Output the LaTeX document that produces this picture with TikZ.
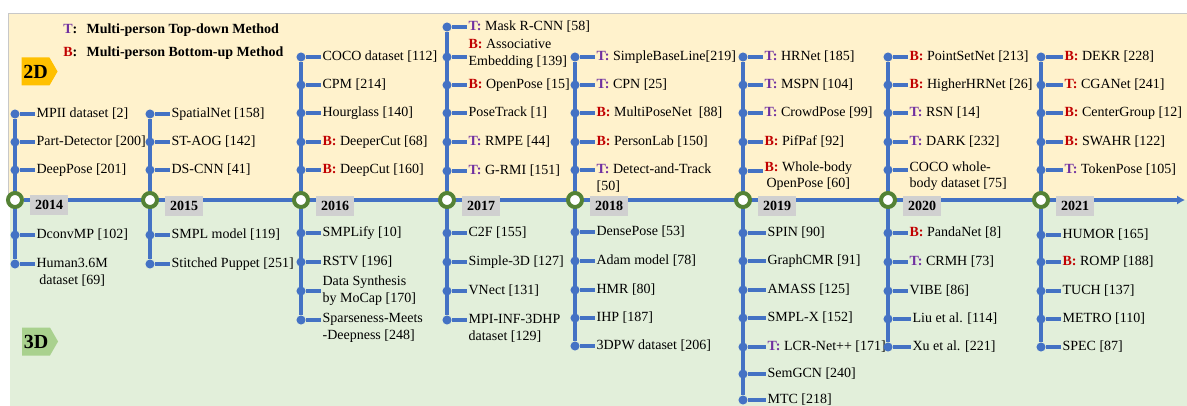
\documentclass[tikz,border=0pt]{standalone}
\usepackage{fontspec}
\setmainfont{Liberation Serif}
\usetikzlibrary{arrows.meta,shapes.symbols}
\pgfdeclarelayer{back}
\pgfdeclarelayer{wires}
\pgfsetlayers{back,wires,main}
\newcommand{\tdm}{\textcolor[RGB]{112,48,160}{\textbf{T:}}\ }
\newcommand{\bum}{\textcolor[RGB]{192,0,0}{\textbf{B:}}\ }
\newcommand{\tdmred}{\textcolor[RGB]{192,0,0}{\textbf{T:}}\ }
\begin{document}
\begin{tikzpicture}[x=0.75pt,y=0.75pt,yscale=-1,xscale=1,
  spine/.style={draw={rgb,255:red,68;green,114;blue,196},line width=2.6pt},
  dot/.style={circle,fill={rgb,255:red,68;green,114;blue,196},inner sep=0pt,minimum size=6.8pt},
  item/.style={anchor=west,inner sep=1pt,align=left,font=\fontsize{10.5}{12.5}\selectfont},
  ring/.style={circle,draw={rgb,255:red,84;green,130;blue,53},fill=white,line width=3pt,inner sep=0pt,minimum size=10.5pt},
  yearbox/.style={fill={rgb,255:red,208;green,208;blue,208},inner sep=0pt,minimum width=29pt,minimum height=15pt,font=\bfseries\fontsize{10.5}{12}\selectfont},
  tag/.style={signal,signal to=east,signal pointer angle=120,inner sep=0pt,minimum width=27pt,minimum height=21pt,font=\bfseries\fontsize{15}{16}\selectfont}
]
\useasboundingbox (0,0) rectangle (1187,406);
%Panels
\begin{pgfonlayer}{back}
\fill[color={rgb,255:red,255;green,242;blue,204}] (8,13) rectangle (1187,200);
\draw[color={rgb,255:red,200;green,200;blue,200}] (8,200) -- (8,13) -- (1187,13);
\fill[color={rgb,255:red,226;green,239;blue,218}] (10,200) rectangle (1187,406);
\end{pgfonlayer}
%Key
\node[anchor=west,inner sep=0pt,font=\bfseries\fontsize{10.5}{12}\selectfont] (keyT) at (63,30) {\textcolor[RGB]{112,48,160}{T}:\hspace{7pt}Multi-person Top-down Method};
\node[anchor=west,inner sep=0pt,font=\bfseries\fontsize{10.5}{12}\selectfont] (keyB) at (63,53) {\textcolor[RGB]{192,0,0}{B}:\hspace{7pt}Multi-person Bottom-up Method};
\node[tag,fill={rgb,255:red,255;green,192;blue,0}] (tag2d) at (35.5,71.5) {2D};
\node[tag,fill={rgb,255:red,169;green,209;blue,142}] (tag3d) at (36,341.5) {3D};

%2014
\node[dot] (d14a) at (15,114) {};
\node[item] (t14a) at (35,114) {MPII dataset [2]};
\node[dot] (d14b) at (15,142) {};
\node[item] (t14b) at (35,142) {Part-Detector [200]};
\node[dot] (d14c) at (15,170) {};
\node[item] (t14c) at (35,170) {DeepPose [201]};
\node[dot] (d14d) at (15,235) {};
\node[item] (t14d) at (35,235) {DconvMP [102]};
\node[dot] (d14e) at (15,264) {};
\node[item,align=center] (t14e) at (35,272) {Human3.6M\\dataset [69]};
\begin{pgfonlayer}{wires}
\draw[spine] (d14a) -- (d14e);
\foreach \k in {a,...,e} \draw[spine] (d14\k) -- (d14\k -| t14\k.west);
\end{pgfonlayer}

%2015
\node[dot] (d15a) at (150,114) {};
\node[item] (t15a) at (170,114) {SpatialNet [158]};
\node[dot] (d15b) at (150,142) {};
\node[item] (t15b) at (170,142) {ST-AOG [142]};
\node[dot] (d15c) at (150,170) {};
\node[item] (t15c) at (170,170) {DS-CNN [41]};
\node[dot] (d15d) at (150,235) {};
\node[item] (t15d) at (170,235) {SMPL model [119]};
\node[dot] (d15e) at (150,264) {};
\node[item] (t15e) at (170,264) {Stitched Puppet [251]};
\begin{pgfonlayer}{wires}
\draw[spine] (d15a) -- (d15e);
\foreach \k in {a,...,e} \draw[spine] (d15\k) -- (d15\k -| t15\k.west);
\end{pgfonlayer}

%2016
\node[dot] (d16a) at (301,57) {};
\node[item] (t16a) at (321,57) {COCO dataset [112]};
\node[dot] (d16b) at (301,85) {};
\node[item] (t16b) at (321,85) {CPM [214]};
\node[dot] (d16c) at (301,113) {};
\node[item] (t16c) at (321,113) {Hourglass [140]};
\node[dot] (d16d) at (301,142) {};
\node[item] (t16d) at (321,142) {\bum DeeperCut [68]};
\node[dot] (d16e) at (301,170) {};
\node[item] (t16e) at (321,170) {\bum DeepCut [160]};
\node[dot] (d16f) at (301,233) {};
\node[item] (t16f) at (321,233) {SMPLify [10]};
\node[dot] (d16g) at (301,262) {};
\node[item] (t16g) at (321,262) {RSTV [196]};
\node[dot] (d16h) at (301,291) {};
\node[item] (t16h) at (321,290.5) {Data Synthesis\\by MoCap [170]};
\node[dot] (d16i) at (301,320) {};
\node[item] (t16i) at (321,328) {Sparseness-Meets\\-Deepness [248]};
\begin{pgfonlayer}{wires}
\draw[spine] (d16a) -- (d16i);
\foreach \k in {a,...,i} \draw[spine] (d16\k) -- (d16\k -| t16\k.west);
\end{pgfonlayer}

%2017
\node[dot] (d17a) at (447,27) {};
\node[item] (t17a) at (467,27) {\tdm Mask R-CNN [58]};
\node[dot] (d17b) at (447,57) {};
\node[item] (t17b) at (467,54) {\bum Associative\\Embedding [139]};
\node[dot] (d17c) at (447,85) {};
\node[item] (t17c) at (467,85) {\bum OpenPose [15]};
\node[dot] (d17d) at (447,113) {};
\node[item] (t17d) at (467,113) {PoseTrack [1]};
\node[dot] (d17e) at (447,142) {};
\node[item] (t17e) at (467,142) {\tdm RMPE [44]};
\node[dot] (d17f) at (447,171) {};
\node[item] (t17f) at (467,171) {\tdm G-RMI [151]};
\node[dot] (d17g) at (447,233) {};
\node[item] (t17g) at (467,233) {C2F [155]};
\node[dot] (d17h) at (447,262) {};
\node[item] (t17h) at (467,262) {Simple-3D [127]};
\node[dot] (d17i) at (447,291) {};
\node[item] (t17i) at (467,291) {VNect [131]};
\node[dot] (d17j) at (447,320) {};
\node[item] (t17j) at (467,328) {MPI-INF-3DHP\\dataset [129]};
\begin{pgfonlayer}{wires}
\draw[spine] (d17a) -- (d17j);
\foreach \k in {a,...,j} \draw[spine] (d17\k) -- (d17\k -| t17\k.west);
\end{pgfonlayer}

%2018
\node[dot] (d18a) at (575,57) {};
\node[item] (t18a) at (595,57) {\tdm SimpleBaseLine[219]};
\node[dot] (d18b) at (575,85) {};
\node[item] (t18b) at (595,85) {\tdm CPN [25]};
\node[dot] (d18c) at (575,113) {};
\node[item] (t18c) at (595,113) {\bum MultiPoseNet\ \ [88]};
\node[dot] (d18d) at (575,142) {};
\node[item] (t18d) at (595,142) {\bum PersonLab [150]};
\node[dot] (d18e) at (575,170) {};
\node[item] (t18e) at (595,178) {\tdm Detect-and-Track\\{}[50]};
\node[dot] (d18f) at (575,232) {};
\node[item] (t18f) at (595,232) {DensePose [53]};
\node[dot] (d18g) at (575,261) {};
\node[item] (t18g) at (595,261) {Adam model [78]};
\node[dot] (d18h) at (575,290) {};
\node[item] (t18h) at (595,290) {HMR [80]};
\node[dot] (d18i) at (575,318) {};
\node[item] (t18i) at (595,318) {IHP [187]};
\node[dot] (d18j) at (575,346) {};
\node[item] (t18j) at (595,346) {3DPW dataset [206]};
\begin{pgfonlayer}{wires}
\draw[spine] (d18a) -- (d18j);
\foreach \k in {a,...,j} \draw[spine] (d18\k) -- (d18\k -| t18\k.west);
\end{pgfonlayer}

%2019
\node[dot] (d19a) at (743,57) {};
\node[item] (t19a) at (763,57) {\tdm HRNet [185]};
\node[dot] (d19b) at (743,85) {};
\node[item] (t19b) at (763,85) {\tdm MSPN [104]};
\node[dot] (d19c) at (743,113) {};
\node[item] (t19c) at (763,113) {\tdm CrowdPose [99]};
\node[dot] (d19d) at (743,142) {};
\node[item] (t19d) at (763,142) {\bum PifPaf [92]};
\node[dot] (d19e) at (743,171) {};
\node[item,align=center] (t19e) at (763,176) {\bum Whole-body\\OpenPose [60]};
\node[dot] (d19f) at (743,233) {};
\node[item] (t19f) at (766,233) {SPIN [90]};
\node[dot] (d19g) at (743,261) {};
\node[item] (t19g) at (766,261) {GraphCMR [91]};
\node[dot] (d19h) at (743,290) {};
\node[item] (t19h) at (766,290) {AMASS [125]};
\node[dot] (d19i) at (743,318) {};
\node[item] (t19i) at (766,318) {SMPL-X [152]};
\node[dot] (d19j) at (743,347) {};
\node[item] (t19j) at (766,347) {\tdm LCR-Net++ [171]};
\node[dot] (d19k) at (743,374) {};
\node[item] (t19k) at (766,374) {SemGCN [240]};
\node[dot] (d19l) at (743,400) {};
\node[item] (t19l) at (766,400) {MTC [218]};
\begin{pgfonlayer}{wires}
\draw[spine] (d19a) -- (d19l);
\foreach \k in {a,...,l} \draw[spine] (d19\k) -- (d19\k -| t19\k.west);
\end{pgfonlayer}

%2020
\node[dot] (d20a) at (888,57) {};
\node[item] (t20a) at (908,57) {\bum PointSetNet [213]};
\node[dot] (d20b) at (888,85) {};
\node[item] (t20b) at (908,85) {\bum HigherHRNet [26]};
\node[dot] (d20c) at (888,113) {};
\node[item] (t20c) at (908,113) {\tdm RSN [14]};
\node[dot] (d20d) at (888,142) {};
\node[item] (t20d) at (908,142) {\tdm DARK [232]};
\node[dot] (d20e) at (888,170) {};
\node[item] (t20e) at (908,176) {COCO whole-\\body dataset [75]};
\node[dot] (d20f) at (888,233) {};
\node[item] (t20f) at (908,233) {\bum PandaNet [8]};
\node[dot] (d20g) at (888,262) {};
\node[item] (t20g) at (908,262) {\tdm CRMH [73]};
\node[dot] (d20h) at (888,291) {};
\node[item] (t20h) at (908,291) {VIBE [86]};
\node[dot] (d20i) at (888,319) {};
\node[item] (t20i) at (911,319) {Liu et al. [114]};
\node[dot] (d20j) at (888,347) {};
\node[item] (t20j) at (911,347) {Xu et al. [221]};
\begin{pgfonlayer}{wires}
\draw[spine] (d20a) -- (d20j);
\foreach \k in {a,...,j} \draw[spine] (d20\k) -- (d20\k -| t20\k.west);
\end{pgfonlayer}

%2021
\node[dot] (d21a) at (1041,57) {};
\node[item] (t21a) at (1063,57) {\bum DEKR [228]};
\node[dot] (d21b) at (1041,85) {};
\node[item] (t21b) at (1063,85) {\tdmred CGANet [241]};
\node[dot] (d21c) at (1041,113) {};
\node[item] (t21c) at (1063,113) {\bum CenterGroup [12]};
\node[dot] (d21d) at (1041,142) {};
\node[item] (t21d) at (1063,142) {\bum SWAHR [122]};
\node[dot] (d21e) at (1041,170) {};
\node[item] (t21e) at (1063,170) {\tdm TokenPose [105]};
\node[dot] (d21f) at (1041,235) {};
\node[item] (t21f) at (1061,235) {HUMOR [165]};
\node[dot] (d21g) at (1041,262) {};
\node[item] (t21g) at (1061,262) {\bum ROMP [188]};
\node[dot] (d21h) at (1041,291) {};
\node[item] (t21h) at (1061,291) {TUCH [137]};
\node[dot] (d21i) at (1041,319) {};
\node[item] (t21i) at (1061,319) {METRO [110]};
\node[dot] (d21j) at (1041,347) {};
\node[item] (t21j) at (1061,347) {SPEC [87]};
\begin{pgfonlayer}{wires}
\draw[spine] (d21a) -- (d21j);
\foreach \k in {a,...,j} \draw[spine] (d21\k) -- (d21\k -| t21\k.west);
\end{pgfonlayer}

%Years
\node[ring] (y14) at (15,200) {};
\node[ring] (y15) at (150,200) {};
\node[ring] (y16) at (301,200) {};
\node[ring] (y17) at (447,200) {};
\node[ring] (y18) at (575,200) {};
\node[ring] (y19) at (743,200) {};
\node[ring] (y20) at (888,200) {};
\node[ring] (y21) at (1041,200) {};
\node[yearbox] (b14) at (49,205) {2014};
\node[yearbox] (b15) at (184,206) {2015};
\node[yearbox] (b16) at (335,206) {2016};
\node[yearbox] (b17) at (481,206) {2017};
\node[yearbox] (b18) at (609,206) {2018};
\node[yearbox] (b19) at (777,206) {2019};
\node[yearbox] (b20) at (922,206) {2020};
\node[yearbox] (b21) at (1075,206) {2021};
\coordinate (tlend) at (1185,200);
\begin{pgfonlayer}{wires}
\draw[spine,-{Latex[length=6pt,width=7pt]}] (y14) -- (tlend);
\end{pgfonlayer}
\end{tikzpicture}
\end{document}
